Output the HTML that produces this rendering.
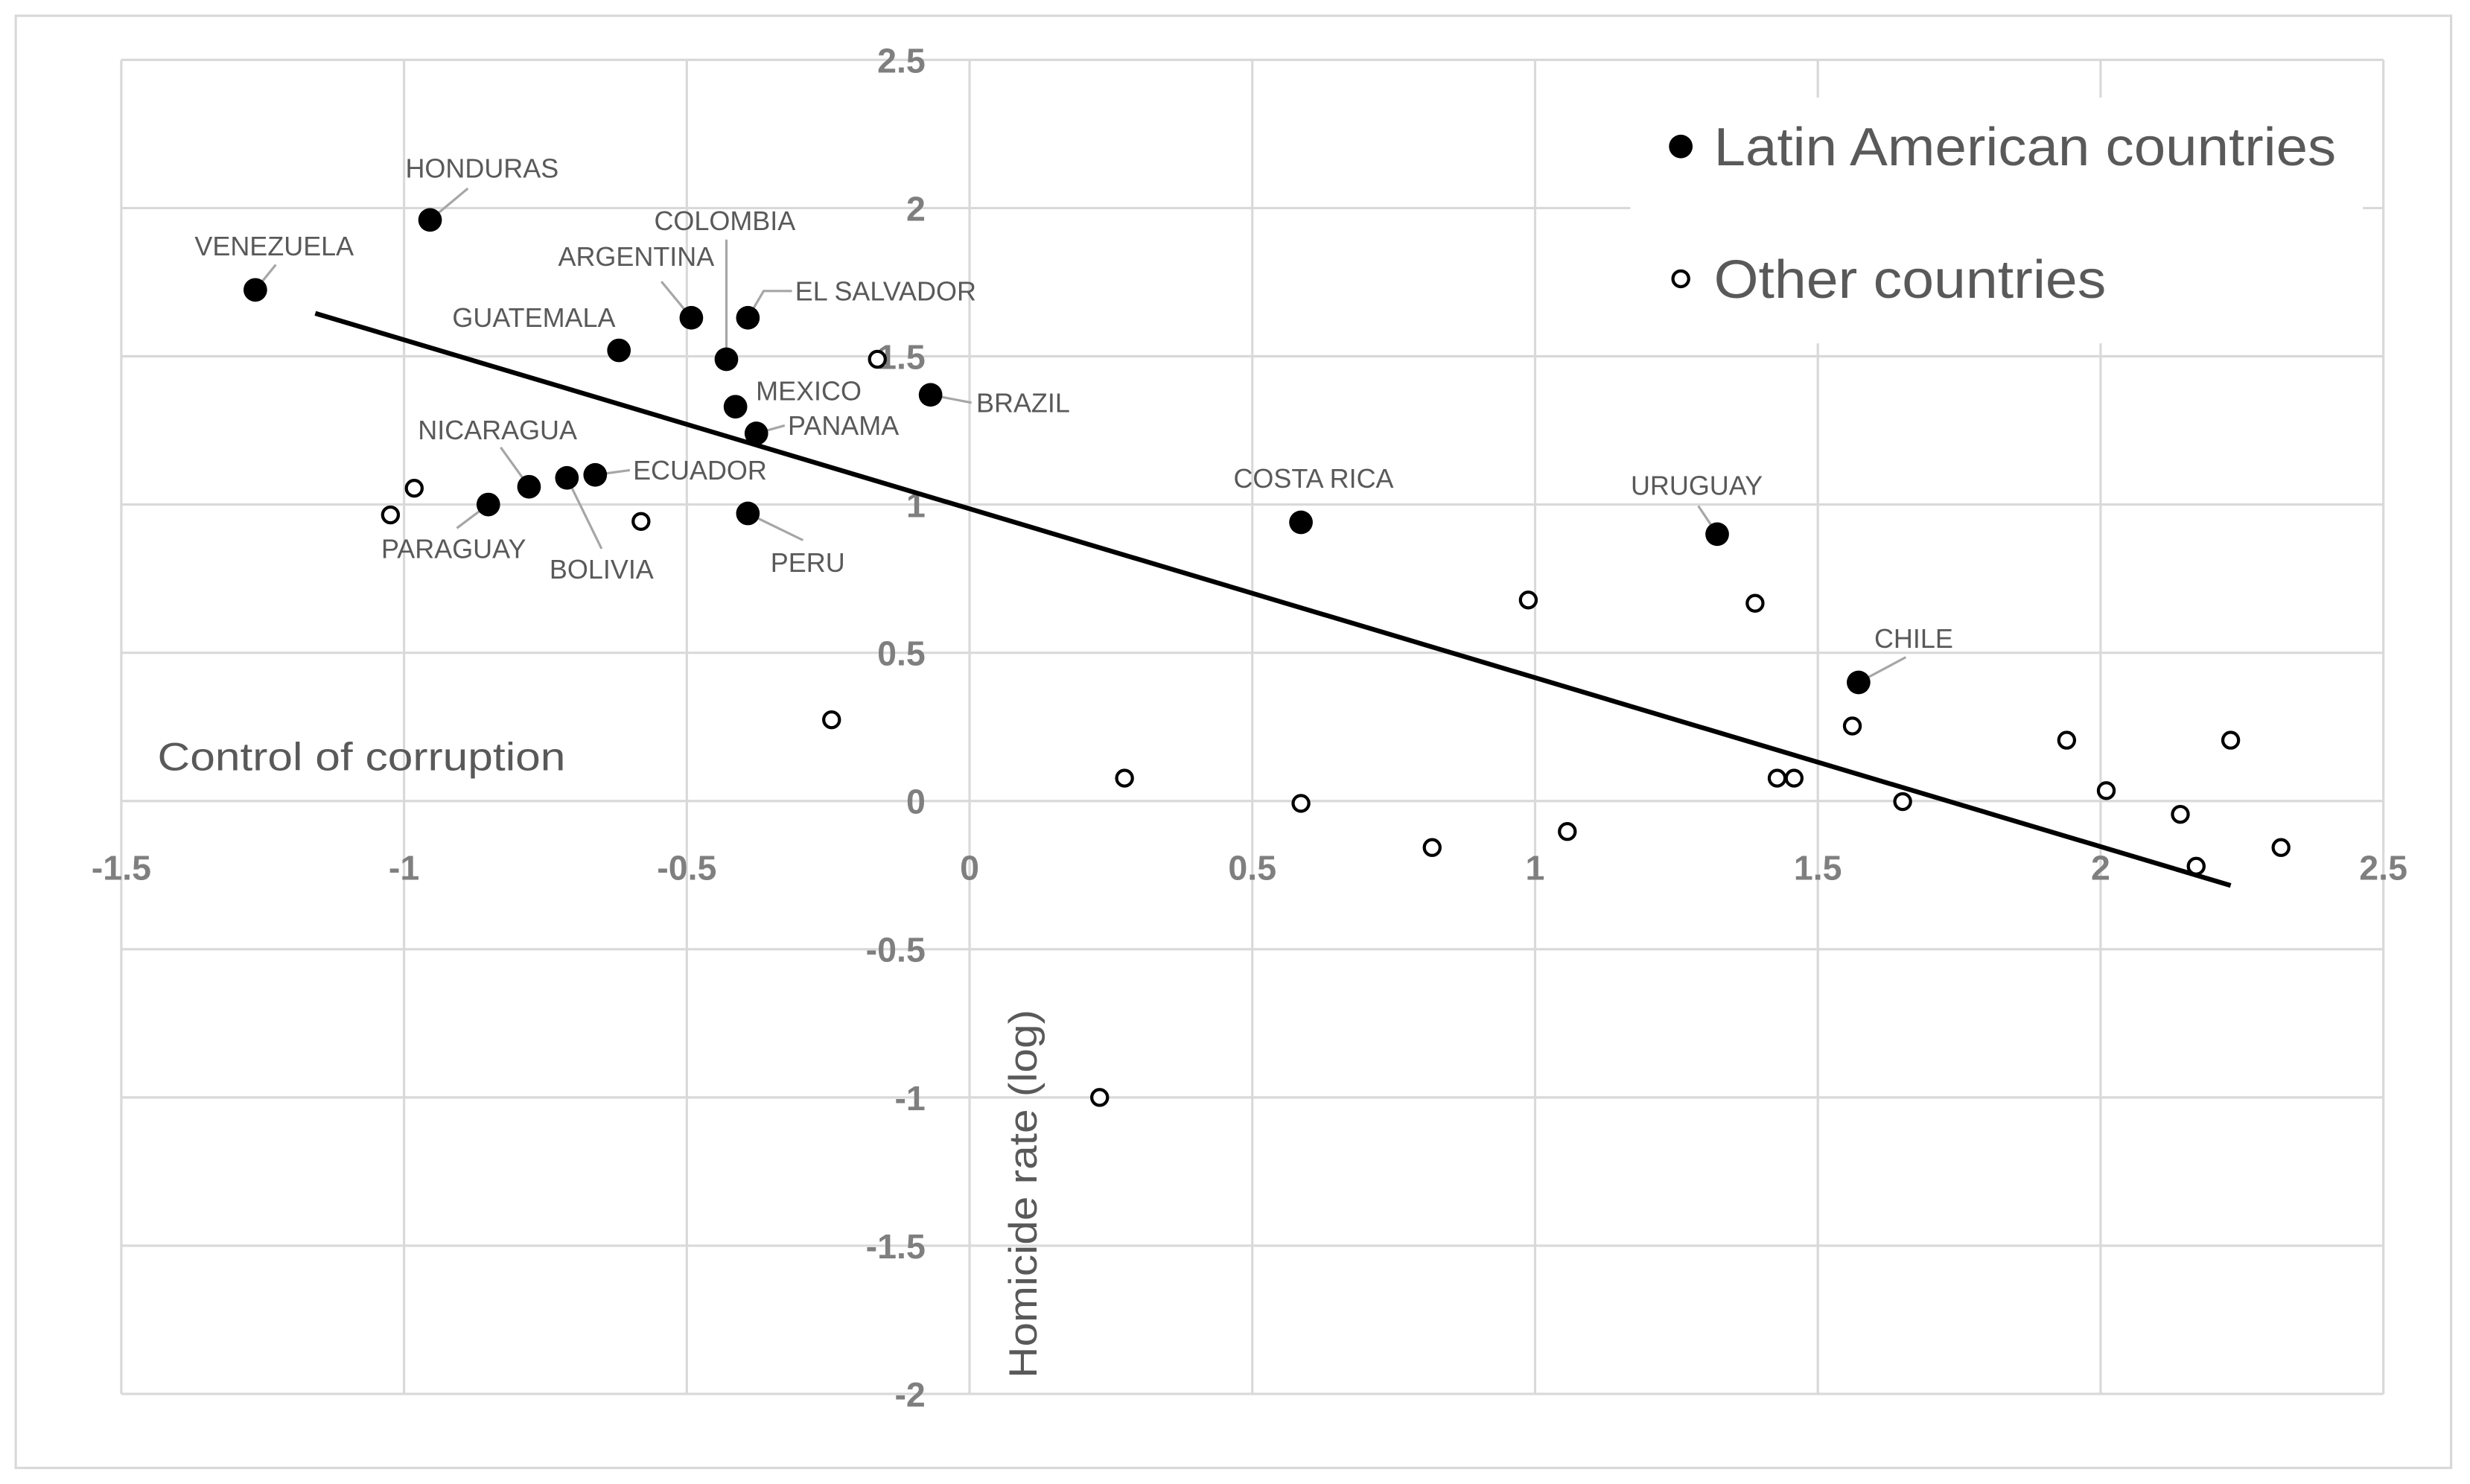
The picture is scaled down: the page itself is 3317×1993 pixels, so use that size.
<!DOCTYPE html>
<html><head><meta charset="utf-8"><style>
html,body{margin:0;padding:0;background:#fff;}
svg{display:block;}
text{font-family:"Liberation Sans",sans-serif;}
</style></head><body>
<svg id="chart" width="3317" height="1993" viewBox="0 0 1568 942.2" preserveAspectRatio="none" xmlns="http://www.w3.org/2000/svg">
<rect x="10" y="10" width="1546" height="922" fill="#fff" stroke="#d9d9d9" stroke-width="1.5"/>
<g id="grid"></g>
<g id="axes"></g>
<line id="trend" stroke="#000" stroke-width="3"/>
<g id="leaders"></g>
<g id="pts"></g>
<g id="labels"></g>
<text x="100" y="489" font-size="25" fill="#595959" textLength="259" lengthAdjust="spacingAndGlyphs">Control of corruption</text>
<text transform="translate(658,758) rotate(-90)" text-anchor="middle" font-size="25" fill="#595959" textLength="234" lengthAdjust="spacingAndGlyphs">Homicide rate (log)</text>
<g>
<rect x="1035" y="62" width="465" height="156" fill="#fff"/>
<g>
<circle cx="1067" cy="93" r="7.5" fill="#000"/>
<text x="1088" y="105" font-size="34" fill="#595959" textLength="395" lengthAdjust="spacingAndGlyphs">Latin American countries</text></g>
<g>
<circle cx="1067" cy="177" r="5" fill="#fff" stroke="#000" stroke-width="2"/>
<text x="1088" y="189" font-size="34" fill="#595959" textLength="249" lengthAdjust="spacingAndGlyphs">Other countries</text></g>
</g>
</svg>
<script>
const latinNames = ["VENEZUELA","HONDURAS","GUATEMALA","ARGENTINA","EL SALVADOR","COLOMBIA","MEXICO","BRAZIL","PANAMA","NICARAGUA","ECUADOR","BOLIVIA","PARAGUAY","PERU","COSTA RICA","URUGUAY","CHILE"];
const latinX = [-1.263,-0.954,-0.62,-0.492,-0.392,-0.43,-0.414,-0.069,-0.377,-0.779,-0.662,-0.712,-0.851,-0.392,0.586,1.322,1.572];
const latinY = [1.724,1.96,1.52,1.63,1.63,1.49,1.33,1.37,1.24,1.06,1.10,1.09,1.00,0.97,0.94,0.90,0.40];
const otherX = [-0.982,-1.024,-0.581,-0.244,0.274,0.586,0.818,0.988,1.057,1.389,1.428,1.458,1.561,1.650,1.940,2.010,2.141,2.169,2.230,2.319,0.230,-0.163];
const otherY = [1.055,0.965,0.943,0.274,0.077,-0.008,-0.157,0.678,-0.103,0.667,0.077,0.077,0.253,-0.002,0.205,0.035,-0.045,-0.22,0.205,-0.157,-1.0,1.49];
const trendX = [-1.157,2.23];
const trendY = [1.645,-0.285];
const xTicks = ["-1.5","-1","-0.5","0","0.5","1","1.5","2","2.5"];
const yTicks = ["2.5","2","1.5","1","0.5","0","-0.5","-1","-1.5","-2"];

// styling: label placement (text anchor pos offset, anchor, leader end offset) per latin point
const labelStyle = [
 [12,-28,"middle",[13,-16]],[33,-33,"middle",[24,-20]],[-54,-21,"middle",null],[-35,-39,"middle",[-19,-23]],
 [30,-17,"start",[10,-17,28,-17]],[-1,-88,"middle",[0,-76]],[13,-10,"start",null],[29,5,"start",[26,5]],
 [20,-5,"start",[18,-5]],[-20,-36,"middle",[-18,-25]],[24,-3,"start",[22,-3]],[22,58,"middle",[22,45]],
 [-22,28,"middle",[-20,15]],[38,31,"middle",[35,17]],[8,-28,"middle",null],[-13,-31,"middle",[-12,-18]],[35,-28,"middle",[30,-16]]
];
const NS="http://www.w3.org/2000/svg";
const X0=77,X1=1513,Y0=38,Y1=885;
function sx(v){return X0+(v+1.5)/4*(X1-X0);}
function sy(v){return Y0+(2.5-v)/4.5*(Y1-Y0);}
function mk(tag,attrs,parent){const e=document.createElementNS(NS,tag);for(const k in attrs)e.setAttribute(k,attrs[k]);parent.appendChild(e);return e;}
const grid=document.getElementById('grid'),axes=document.getElementById('axes');
xTicks.forEach((t)=>{const v=parseFloat(t);
 const l=mk('line',{x1:sx(v),x2:sx(v),y1:Y0,y2:Y1,stroke:'#d9d9d9','stroke-width':1.5},grid);
 
 
 const tx=mk('text',{x:sx(v),y:sy(0)+50,'text-anchor':'middle','font-size':22,'font-weight':'bold',fill:'#7f7f7f'},axes);
 tx.textContent=t;
 
 
});
yTicks.forEach((t)=>{const v=parseFloat(t);
 const l=mk('line',{x1:X0,x2:X1,y1:sy(v),y2:sy(v),stroke:'#d9d9d9','stroke-width':1.5},grid);
 
 
 const tx=mk('text',{x:sx(0)-28,y:sy(v)+8,'text-anchor':'end','font-size':22,'font-weight':'bold',fill:'#7f7f7f'},axes);
 tx.textContent=t;
 
 
});
const tr=document.getElementById('trend');
tr.setAttribute('x1',sx(trendX[0]));tr.setAttribute('y1',sy(trendY[0]));
tr.setAttribute('x2',sx(trendX[1]));tr.setAttribute('y2',sy(trendY[1]));
const pts=document.getElementById('pts'),labs=document.getElementById('labels'),lead=document.getElementById('leaders');
otherX.forEach((x,i)=>{
 const c=mk('circle',{cx:sx(x),cy:sy(otherY[i]),r:5,fill:'#fff',stroke:'#000','stroke-width':2},pts);
 
 
});
latinX.forEach((x,i)=>{
 const px=sx(x),py=sy(latinY[i]);const s=labelStyle[i];
 if(s[3]){let d='M'+px+' '+py;for(let k=0;k<s[3].length;k+=2)d+=' L'+(px+s[3][k])+' '+(py+s[3][k+1]);
  const p=mk('path',{d:d,fill:'none',stroke:'#a6a6a6','stroke-width':1.5},lead);
  
  }
 const c=mk('circle',{cx:px,cy:py,r:7.5,fill:'#000'},pts);
 
 
 const t=mk('text',{x:px+s[0],y:py+s[1]+6,'text-anchor':s[2],'font-size':17,fill:'#595959'},labs);
 t.textContent=latinNames[i];
 
 
});
</script>
</body></html>
